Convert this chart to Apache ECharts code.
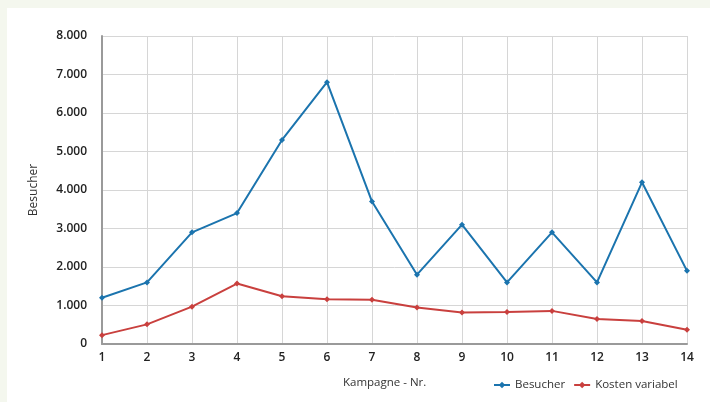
<!DOCTYPE html>
<html>
<head>
<meta charset="utf-8">
<script src="https://cdn.jsdelivr.net/npm/echarts@6/dist/echarts.min.js"></script>
<style>
  html, body { margin: 0; padding: 0; background: #f4f7ee; width: 710px; height: 402px; overflow: hidden; }
  #chart { position: absolute; left: 7px; top: 8px; width: 703px; height: 394px; background: #ffffff; }
</style>
</head>
<body>
<div id="chart"></div>
<script>
// Kampagnen 1..14
const kampagnen = ['1','2','3','4','5','6','7','8','9','10','11','12','13','14'];
// Besucher pro Kampagne
const besucher = [1200, 1600, 2900, 3400, 5300, 6800, 3700, 1800, 3100, 1600, 2900, 1600, 4200, 1900];
// variable Kosten pro Kampagne
const kostenVariabel = [230, 510, 970, 1570, 1240, 1160, 1150, 950, 820, 830, 860, 650, 600, 370];

const FONT = '"Open Sans", "Noto Sans", sans-serif';
const fmt = v => String(v).replace(/\B(?=(\d{3})+(?!\d))/g, '.');

const chart = echarts.init(document.getElementById('chart'));
chart.setOption({
  animation: false,
  textStyle: { fontFamily: FONT },
  grid: { left: 95, right: 23, top: 28, bottom: 58 },
  legend: {
    left: 481, top: 366,
    itemWidth: 16, itemHeight: 8, itemGap: 8,
    textStyle: { fontFamily: FONT, fontSize: 11.5, color: '#333' },
    data: ['Besucher', 'Kosten variabel']
  },
  graphic: [{
    type: 'text', left: 336, top: 369,
    style: { text: 'Kampagne - Nr.', font: '11.5px ' + FONT, fill: '#333' }
  }],
  xAxis: {
    type: 'category', data: kampagnen, boundaryGap: false,
    axisLine: { lineStyle: { color: '#9a9a9a', width: 2 } },
    axisTick: { show: false },
    axisLabel: { margin: 8, fontSize: 12, fontWeight: 600, color: '#222', fontFamily: FONT },
    splitLine: { show: true, lineStyle: { color: '#d6d6d6', width: 1 } }
  },
  yAxis: {
    type: 'value', min: 0, max: 8000, interval: 1000,
    name: 'Besucher', nameLocation: 'middle', nameGap: 62, nameRotate: 90,
    nameTextStyle: { fontSize: 12, color: '#333', fontFamily: FONT },
    axisLine: { show: true, lineStyle: { color: '#9a9a9a', width: 2 } },
    axisTick: { show: false },
    axisLabel: { margin: 15, fontSize: 12, fontWeight: 600, color: '#222', fontFamily: FONT, formatter: fmt },
    splitLine: { lineStyle: { color: '#d6d6d6', width: 1 } }
  },
  series: [{
    name: 'Besucher', type: 'line', data: besucher,
    symbol: 'diamond', symbolSize: 6,
    lineStyle: { color: '#1b74ae', width: 2 },
    itemStyle: { color: '#1b74ae' }
  }, {
    name: 'Kosten variabel', type: 'line', data: kostenVariabel,
    symbol: 'diamond', symbolSize: 6,
    lineStyle: { color: '#c9403e', width: 2 },
    itemStyle: { color: '#c9403e' }
  }]
});
</script>
</body>
</html>
